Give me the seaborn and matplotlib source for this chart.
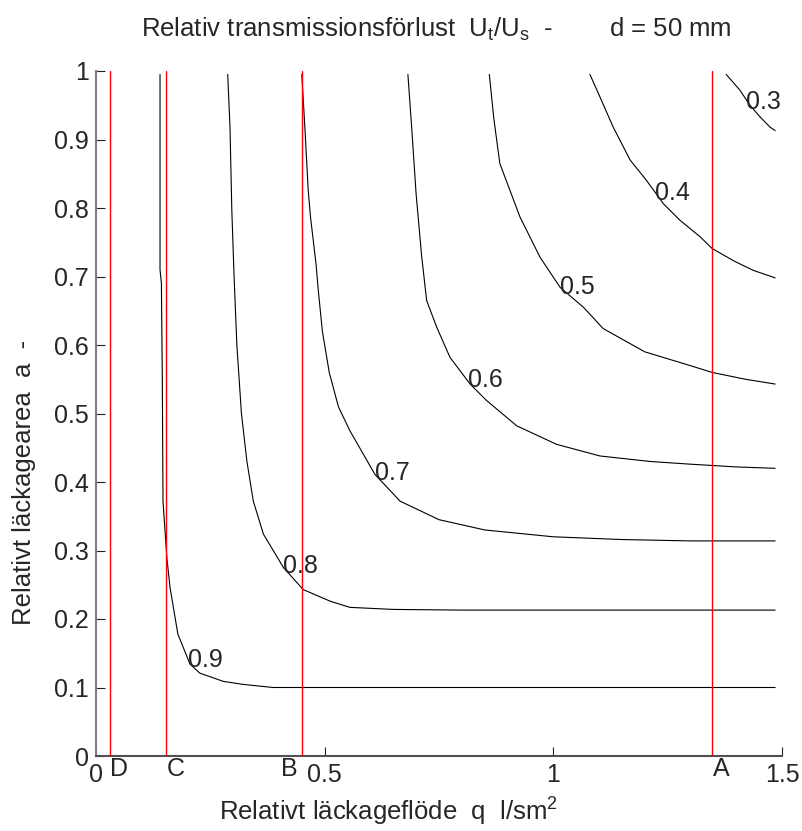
import numpy as np
import pandas as pd
import matplotlib
matplotlib.use("Agg")
import matplotlib.pyplot as plt
import seaborn as sns
from matplotlib.transforms import blended_transform_factory

# ---------------- data ----------------
levels = [0.9, 0.8, 0.7, 0.6, 0.5, 0.4, 0.3]

c09_q = [0.140, 0.140, 0.143, 0.145, 0.1465, 0.155, 0.162, 0.179, 0.2056, 0.227, 0.278, 0.321, 0.387, 1.485]
c09_a = [0.995, 0.710, 0.690, 0.550, 0.372, 0.289, 0.2455, 0.178, 0.134, 0.121, 0.109, 0.1046, 0.100, 0.100]

c08_q = [0.288, 0.293, 0.297, 0.302, 0.308, 0.318, 0.330, 0.344, 0.366, 0.410, 0.453, 0.512, 0.555, 0.650, 0.800, 1.485]
c08_a = [0.995, 0.918, 0.796, 0.699, 0.600, 0.500, 0.430, 0.372, 0.324, 0.275, 0.243, 0.226, 0.217, 0.214, 0.213, 0.213]

c07_q = [0.450, 0.457, 0.464, 0.469, 0.481, 0.486, 0.495, 0.510, 0.530, 0.555, 0.610, 0.665, 0.750, 0.850, 1.000, 1.150, 1.300, 1.485]
c07_a = [0.995, 0.914, 0.826, 0.787, 0.719, 0.680, 0.620, 0.560, 0.510, 0.475, 0.411, 0.372, 0.345, 0.330, 0.320, 0.316, 0.314, 0.314]

c06_q = [0.682, 0.690, 0.700, 0.712, 0.723, 0.745, 0.774, 0.818, 0.854, 0.920, 1.007, 1.102, 1.211, 1.300, 1.400, 1.485]
c06_a = [0.995, 0.920, 0.820, 0.730, 0.665, 0.626, 0.582, 0.543, 0.519, 0.482, 0.455, 0.438, 0.430, 0.426, 0.422, 0.420]

c05_q = [0.860, 0.870, 0.883, 0.927, 0.971, 1.015, 1.066, 1.109, 1.200, 1.299, 1.347, 1.420, 1.485]
c05_a = [0.995, 0.930, 0.865, 0.787, 0.728, 0.684, 0.655, 0.624, 0.590, 0.570, 0.560, 0.550, 0.543]

c04_q = [1.080, 1.102, 1.131, 1.168, 1.204, 1.241, 1.277, 1.321, 1.347, 1.394, 1.437, 1.485]
c04_a = [0.995, 0.962, 0.918, 0.870, 0.840, 0.806, 0.782, 0.758, 0.741, 0.723, 0.709, 0.698]

c03_q = [1.378, 1.408, 1.430, 1.452, 1.474, 1.485]
c03_a = [0.995, 0.972, 0.950, 0.933, 0.918, 0.913]

# contour label anchor points (on the lines)
clabel_q = [0.201, 0.408, 0.610, 0.814, 1.015, 1.222, 1.4216]
clabel_a = [0.1397, 0.277, 0.4126, 0.549, 0.684, 0.8215, 0.955]

# red reference lines
line_q = [0.030, 0.153, 0.450, 1.347]
line_names = ["D", "C", "B", "A"]

xticks = [0, 0.5, 1, 1.5]
xtick_labels = ["0", "0.5", "1", "1.5"]
yticks = [0, 0.1, 0.2, 0.3, 0.4, 0.5, 0.6, 0.7, 0.8, 0.9, 1.0]
ytick_labels = ["0", "0.1", "0.2", "0.3", "0.4", "0.5", "0.6", "0.7", "0.8", "0.9", "1"]

title = "Relativ transmissionsförlust  U$_t$/U$_s$  -        d = 50 mm"
xlabel = "Relativt läckageflöde  q  l/sm$^2$"
ylabel = "Relativt läckagearea  a  -"

# ---------------- style ----------------
sns.set_style("ticks")
plt.rcParams["font.family"] = ["Liberation Sans", "DejaVu Sans"]
plt.rcParams["mathtext.fontset"] = "custom"
plt.rcParams["mathtext.rm"] = "Liberation Sans"
plt.rcParams["mathtext.it"] = "Liberation Sans"
plt.rcParams["mathtext.default"] = "regular"

W, H = 803, 831
fig = plt.figure(figsize=(W / 100, H / 100), dpi=100)
L, R, T, B = 96, 782, 71, 756
ax = fig.add_axes([L / W, 1 - B / H, (R - L) / W, (B - T) / H])

series = [(c09_q, c09_a), (c08_q, c08_a), (c07_q, c07_a), (c06_q, c06_a),
          (c05_q, c05_a), (c04_q, c04_a), (c03_q, c03_a)]
rows = []
for lev, (qs, as_) in zip(levels, series):
    for i, (q, a) in enumerate(zip(qs, as_)):
        rows.append({"level": lev, "q": q, "a": a, "order": i})
df = pd.DataFrame(rows)

sns.lineplot(data=df, x="q", y="a", units="level", estimator=None, sort=False,
             color="black", lw=0.8, ax=ax, legend=False, zorder=2)

for q in line_q:
    ax.axvline(q, color="#ff0000", lw=1.0, zorder=3)

for lev, q, a in zip(levels, clabel_q, clabel_a):
    ax.text(q, a, f"{lev:g}", ha="left", va="center", fontsize=18, zorder=4)

ax.set_xlim(0, 1.5)
ax.set_ylim(0, 1)
ax.set_xticks(xticks)
ax.set_xticklabels(xtick_labels)
ax.set_yticks(yticks)
ax.set_yticklabels(ytick_labels)
ax.tick_params(direction="in", length=6.5, width=0.8, color="#222222",
               labelsize=18, pad=5, bottom=True, left=True, top=False, right=False)
for s in ["top", "right"]:
    ax.spines[s].set_visible(False)
ax.spines["left"].set_color("#808080")
ax.spines["bottom"].set_color("#505050")
for s in ["left", "bottom"]:
    ax.spines[s].set_linewidth(1.5)

# letters under the red lines
trans = blended_transform_factory(ax.transData, ax.transAxes)
name_ha = ["left", "left", "right", "left"]
name_dx = [0.0, 0.002, -0.010, 0.002]
for q, n, ha, dx in zip(line_q, line_names, name_ha, name_dx):
    ax.text(q + dx, (B - 769) / (B - T), n, transform=trans, ha=ha, va="center", fontsize=18)

ax.set_xlabel(xlabel, fontsize=18.5)
ax.xaxis.set_label_coords((389 - L) / (R - L), (B - 812) / (B - T))
ax.xaxis.label.set_va("center")
ax.set_ylabel(ylabel, fontsize=18.5)
ax.yaxis.set_label_coords((24 - L) / (R - L), (B - 482) / (B - T))
ax.yaxis.label.set_va("center")

ax.text((436 - L) / (R - L), (B - 37) / (B - T), title, transform=ax.transAxes,
        ha="center", va="baseline", fontsize=18.5)

fig.savefig("out.png", dpi=100)
